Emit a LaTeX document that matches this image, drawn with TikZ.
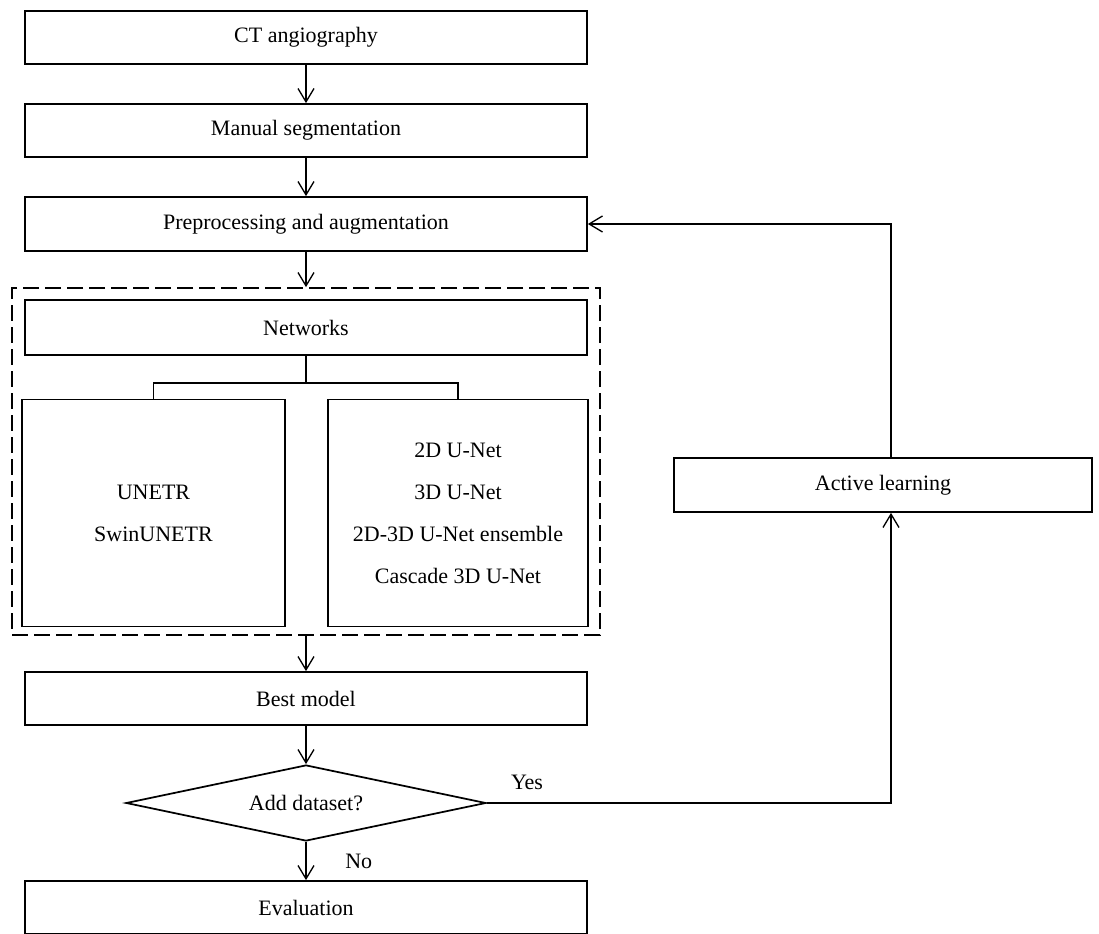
\documentclass[tikz,border=0pt]{standalone}
\usepackage{fontspec}
\setmainfont{Liberation Serif}
\usetikzlibrary{arrows.meta,shapes.geometric,calc}

\begin{document}
\begin{tikzpicture}[
  x=0.75pt, y=-0.75pt,
  every node/.style={font=\fontsize{16.5}{31.5}\selectfont, inner sep=0pt},
  box/.style={draw, line width=1.3pt, rectangle, align=center,
              minimum width=#1*0.75pt},
  box/.default=562,
  group/.style={draw, line width=1.3pt, dash pattern=on 12pt off 4.5pt},
  decision/.style={draw, line width=1.3pt, diamond, aspect=4.7,
                   minimum width=360*0.75pt, minimum height=76*0.75pt},
  link/.style={line width=1pt, -{Straight Barb[length=10pt,width=12pt]}},
  plain/.style={line width=1pt},
  lbl/.style={font=\fontsize{16.5}{20}\selectfont}
]
\useasboundingbox (0,0) rectangle (1099,934);

% main pipeline
\node[box, minimum height=53*0.75pt] (ct)   at (306,37.5)  {CT angiography};
\node[box, minimum height=53*0.75pt] (man)  at (306,130.5) {Manual segmentation};
\node[box, minimum height=54*0.75pt] (pre)  at (306,224)   {Preprocessing and augmentation};

% network group
\node[group, minimum width=588*0.75pt, minimum height=347*0.75pt] (grp) at (306,461.5) {};
\node[box, minimum height=55*0.75pt] (net) at (306,327.5) {Networks};
\node[box=263, minimum height=227*0.75pt] (tr) at (153.5,513) {UNETR\\SwinUNETR};
\node[box=260, minimum height=227*0.75pt] (cnn) at (458,513)
  {2D U-Net\\3D U-Net\\2D-3D U-Net ensemble\\Cascade 3D U-Net};

\node[box, minimum height=53*0.75pt] (best) at (306,698.5) {Best model};
\node[decision] (add) at (306,803) {Add dataset?};
\node[box, minimum height=53*0.75pt] (eval) at (306,907.5) {Evaluation};

\node[box=418, minimum height=54*0.75pt] (al) at (883,485) {Active learning};

\coordinate (turn) at (891,803);

% connectors
\draw[link] (ct) -- (man);
\draw[link] (man) -- (pre);
\draw[link] (pre) -- (grp);
\draw[plain] (net.south) -- ++(0,27) coordinate (split);
\draw[plain] (tr.north) |- (split) -| (cnn.north);
\draw[link] (grp.south -| best.north) -- (best.north);
\draw[link] (best) -- (add);
\draw[link] (add) -- (eval) node[lbl, pos=0.5, right=29pt] {No};
\draw[link] (add.east) -- (turn) -- (turn |- al.south);
\draw[link] (turn |- al.north) -- (turn |- pre.east) -- (pre.east);
\node[lbl] (yes) at (527,782) {Yes};
\end{tikzpicture}
\end{document}
